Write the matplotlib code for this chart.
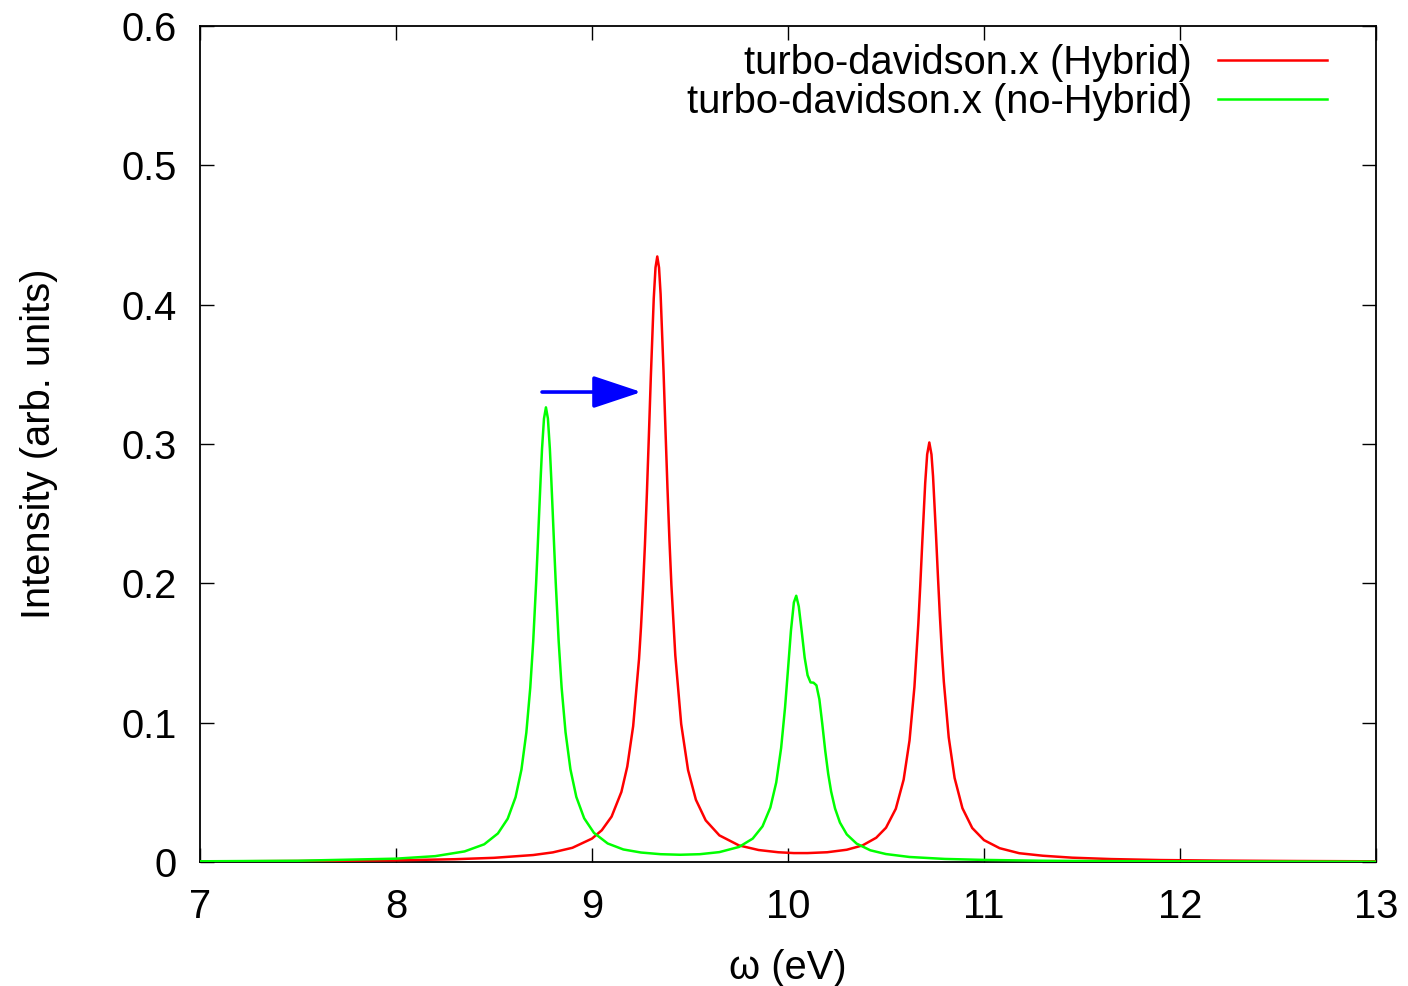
import matplotlib
matplotlib.use("Agg")
import matplotlib.pyplot as plt
from matplotlib.lines import Line2D

# ---------------- data ----------------
hybrid_x = [7.0, 7.5, 8.0, 8.3, 8.5, 8.7, 8.8, 8.9, 9.0, 9.05, 9.1, 9.15, 9.18, 9.21,
            9.24, 9.25, 9.26, 9.27, 9.28, 9.29, 9.30, 9.315, 9.324, 9.333, 9.342, 9.35,
            9.365, 9.375, 9.385, 9.395, 9.405, 9.425, 9.455, 9.49, 9.53, 9.58, 9.65,
            9.75, 9.85, 9.95, 10.03, 10.10, 10.20, 10.30, 10.38, 10.45, 10.50, 10.55,
            10.59, 10.62, 10.645, 10.665, 10.675, 10.685, 10.70, 10.71, 10.721, 10.732,
            10.74, 10.755, 10.765, 10.775, 10.785, 10.795, 10.82, 10.85, 10.89, 10.94,
            11.00, 11.08, 11.18, 11.30, 11.45, 11.65, 11.9, 12.2, 12.6, 13.0]
hybrid_y = [0.0004, 0.0007, 0.0012, 0.0020, 0.0030, 0.0050, 0.0069, 0.0102, 0.0168,
            0.0228, 0.0326, 0.0503, 0.0685, 0.0975, 0.1458, 0.1686, 0.1957, 0.2275,
            0.2643, 0.3052, 0.3476, 0.4043, 0.4266, 0.4346, 0.4266, 0.4076, 0.3520,
            0.3096, 0.2686, 0.2313, 0.1990, 0.1483, 0.0991, 0.0660, 0.0447, 0.0299,
            0.0191, 0.0119, 0.0086, 0.0070, 0.0064, 0.0064, 0.0070, 0.0088, 0.0119,
            0.0174, 0.0246, 0.0382, 0.0591, 0.0872, 0.1256, 0.1711, 0.1990, 0.2291,
            0.2720, 0.2925, 0.3011, 0.2925, 0.2768, 0.2351, 0.2049, 0.1764, 0.1511,
            0.1295, 0.0895, 0.0603, 0.0386, 0.0244, 0.0157, 0.0099, 0.0063, 0.0045,
            0.0031, 0.0021, 0.0014, 0.0010, 0.0007, 0.0005]

nohybrid_x = [7.0, 7.5, 8.0, 8.2, 8.35, 8.45, 8.52, 8.57, 8.61, 8.64, 8.665, 8.685,
              8.70, 8.715, 8.722, 8.73, 8.738, 8.745, 8.755, 8.765, 8.775, 8.785, 8.792,
              8.80, 8.808, 8.815, 8.83, 8.845, 8.865, 8.89, 8.92, 8.96, 9.01, 9.08,
              9.16, 9.25, 9.35, 9.45, 9.55, 9.65, 9.75, 9.82, 9.87, 9.91, 9.94, 9.965,
              9.985, 10.0, 10.015, 10.03, 10.042, 10.055, 10.07, 10.085, 10.10, 10.115,
              10.13, 10.145, 10.16, 10.175, 10.19, 10.205, 10.22, 10.24, 10.265, 10.30,
              10.35, 10.42, 10.50, 10.62, 10.80, 11.0, 11.3, 11.7, 12.2, 13.0]
nohybrid_y = [0.0005, 0.0009, 0.0024, 0.0042, 0.0076, 0.0127, 0.0205, 0.0311, 0.0465,
              0.0663, 0.0929, 0.1251, 0.1582, 0.2003, 0.2227, 0.2494, 0.2754, 0.2964,
              0.3182, 0.3263, 0.3183, 0.2965, 0.2755, 0.2495, 0.2228, 0.2004, 0.1583,
              0.1252, 0.0931, 0.0665, 0.0467, 0.0314, 0.0209, 0.0133, 0.0090, 0.0068,
              0.0056, 0.0052, 0.0056, 0.0071, 0.0108, 0.0168, 0.0256, 0.0391, 0.0571,
              0.0819, 0.1110, 0.1382, 0.1660, 0.1863, 0.1911, 0.1834, 0.1655, 0.1467,
              0.1340, 0.1289, 0.1287, 0.1268, 0.1168, 0.0990, 0.0798, 0.0634, 0.0506,
              0.0384, 0.0283, 0.0198, 0.0132, 0.0084, 0.0057, 0.0036, 0.0022, 0.0015,
              0.0009, 0.0006, 0.0004, 0.0002]

series_labels = ["turbo-davidson.x (Hybrid)", "turbo-davidson.x (no-Hybrid)"]
x_ticks = [7, 8, 9, 10, 11, 12, 13]
x_tick_labels = ["7", "8", "9", "10", "11", "12", "13"]
y_ticks = [0, 0.1, 0.2, 0.3, 0.4, 0.5, 0.6]
y_tick_labels = ["0", "0.1", "0.2", "0.3", "0.4", "0.5", "0.6"]
x_label = "\u03c9 (eV)"
y_label = "Intensity (arb. units)"
arrow_start = (8.745, 0.3373)
arrow_end = (9.252, 0.3373)

# ---------------- figure ----------------
plt.rcParams['font.family'] = ['Liberation Sans', 'DejaVu Sans']
FS = 28.7

fig = plt.figure(figsize=(14.08, 9.86), dpi=100)
ax = fig.add_axes([200 / 1408, 1 - 862 / 986, 1176 / 1408, 836 / 986])

red = '#ff0000'
green = '#00ff00'
ax.plot(hybrid_x, hybrid_y, color=red, lw=1.8, zorder=3, solid_joinstyle='round')
ax.plot(nohybrid_x, nohybrid_y, color=green, lw=1.8, zorder=3, solid_joinstyle='round')

ax.set_xlim(7, 13)
ax.set_ylim(0, 0.6)
ax.set_xticks(x_ticks)
ax.set_xticklabels(x_tick_labels)
ax.set_yticks(y_ticks)
ax.set_yticklabels(y_tick_labels)
ax.tick_params(direction='in', length=10, width=1.0, top=True, right=True,
               labelsize=FS, colors='black')
ax.tick_params(axis='x', pad=19)
ax.tick_params(axis='y', pad=16.5)
for s in ax.spines.values():
    s.set_linewidth(1.3)

ax.set_xlabel(x_label, fontsize=FS)
ax.set_ylabel(y_label, fontsize=FS)
ax.xaxis.set_label_coords(0.5, -0.104)
ax.yaxis.set_label_coords(-0.121, 0.5)

# arrow
ax.annotate('', xy=arrow_end, xytext=arrow_start,
            arrowprops=dict(arrowstyle='-|>,head_length=1.5,head_width=0.5',
                            mutation_scale=20, color='#0000ff', lw=2.6,
                            shrinkA=0, shrinkB=0), zorder=4)

# legend (gnuplot style: right-aligned text, then line sample)
rows_y = [0.9593, 0.9127]
for lab, col, yy in zip(series_labels, [red, green], rows_y):
    ax.text(0.8435, yy - 0.0036, lab, transform=ax.transAxes, ha='right', va='center',
            fontsize=FS)
    ax.add_line(Line2D([0.8656, 0.9583], [yy, yy], transform=ax.transAxes,
                       color=col, lw=1.8))

fig.savefig('out.png', dpi=100)
